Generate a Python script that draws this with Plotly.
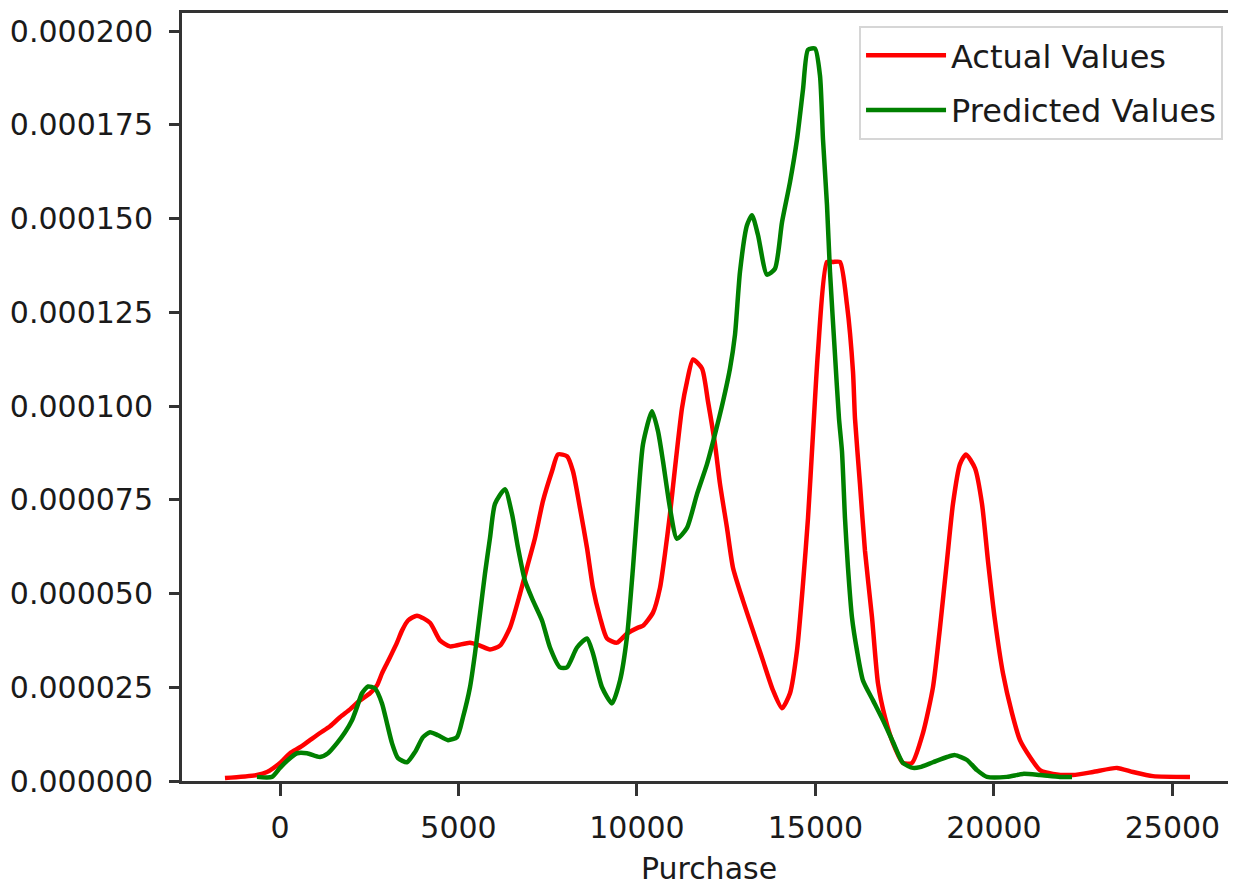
import plotly.graph_objects as go

# Actual Values (KDE curve)
actual_x = [-1541, -644, -364, 0, 280, 560, 840, 1120, 1401, 1681, 1961, 2241, 2521, 2717,
            2857, 2997, 3137, 3277, 3417, 3585, 3837, 4202, 4482, 4762, 5322, 5602, 5882,
            6162, 6443, 6723, 6919, 7143, 7367, 7619, 7787, 8039, 8207, 8403, 8599, 8767,
            8964, 9160, 9440, 9720, 10028, 10168, 10448, 10644, 10784, 10924, 11064, 11260,
            11400, 11569, 11821, 11989, 12185, 12325, 12521, 12689, 12969, 13249, 13529,
            13809, 14062, 14286, 14482, 14650, 14790, 14930, 15070, 15322, 15490, 15686,
            15882, 16050, 16106, 16246, 16386, 16583, 16751, 16947, 17171, 17451, 17703,
            18011, 18291, 18487, 18683, 18851, 19047, 19216, 19468, 19664, 19832, 20028,
            20252, 20504, 20728, 21008, 21288, 21652, 22213, 22773, 23445, 23893, 24453, 25490]
actual_y = [0.8e-6, 1.6e-6, 2.4e-6, 4.8e-6, 7.4e-6, 9.0e-6, 10.9e-6, 12.8e-6, 14.6e-6, 17.0e-6,
            19.1e-6, 21.5e-6, 23.4e-6, 25.5e-6, 28.7e-6, 31.4e-6, 34.1e-6, 36.9e-6, 40.1e-6,
            42.8e-6, 44.1e-6, 42.2e-6, 37.5e-6, 35.9e-6, 36.9e-6, 36.1e-6, 35.1e-6, 36.1e-6,
            40.9e-6, 49.9e-6, 56.9e-6, 64.8e-6, 74.7e-6, 82.6e-6, 87.1e-6, 86.6e-6, 82.6e-6,
            72.8e-6, 62.2e-6, 51.5e-6, 43.6e-6, 38.0e-6, 36.9e-6, 39.3e-6, 40.9e-6, 41.4e-6,
            44.9e-6, 51.5e-6, 60.6e-6, 71.2e-6, 83.4e-6, 99.4e-6, 106.5e-6, 112.4e-6, 110.0e-6,
            101.2e-6, 89.8e-6, 79.2e-6, 67.5e-6, 56.9e-6, 48.1e-6, 40.1e-6, 32.1e-6, 24.2e-6,
            19.4e-6, 23.4e-6, 34.8e-6, 52.6e-6, 70.1e-6, 92.5e-6, 114.5e-6, 138.4e-6, 138.4e-6,
            138.4e-6, 127.0e-6, 109.2e-6, 96.7e-6, 79.2e-6, 61.4e-6, 43.6e-6, 26.0e-6, 17.0e-6,
            10.1e-6, 4.8e-6, 4.8e-6, 12.8e-6, 25.0e-6, 40.9e-6, 58.7e-6, 73.9e-6, 84.5e-6,
            87.1e-6, 83.4e-6, 73.9e-6, 58.7e-6, 42.8e-6, 28.7e-6, 18.1e-6, 10.9e-6, 6.4e-6,
            2.9e-6, 1.9e-6, 1.6e-6, 2.4e-6, 3.5e-6, 2.4e-6, 1.3e-6, 1.1e-6]

# Predicted Values (KDE curve)
pred_x = [-644, -224, 0, 224, 476, 756, 1120, 1345, 1597, 1821, 2017, 2157, 2297, 2465, 2661,
          2857, 2997, 3137, 3305, 3557, 3781, 4006, 4202, 4426, 4706, 4958, 5126, 5322, 5462,
          5602, 5742, 5882, 6022, 6302, 6499, 6667, 6863, 7087, 7339, 7563, 7843, 8039, 8319,
          8599, 8767, 9020, 9300, 9524, 9720, 9888, 10028, 10168, 10420, 10588, 10728, 10924,
          11120, 11400, 11681, 11961, 12185, 12409, 12605, 12745, 12885, 13081, 13221, 13389,
          13641, 13865, 14062, 14286, 14482, 14650, 14790, 14986, 15126, 15210, 15322, 15406,
          15546, 15658, 15742, 15826, 15910, 16022, 16162, 16330, 16611, 16891, 17171, 17451,
          17731, 17927, 18291, 18683, 18907, 19244, 19524, 19804, 20364, 20812, 21288, 21849, 22185]
pred_y = [1.1e-6, 1.1e-6, 3.5e-6, 5.6e-6, 7.4e-6, 7.4e-6, 6.4e-6, 7.4e-6, 10.1e-6, 13.0e-6,
          16.2e-6, 19.7e-6, 23.4e-6, 25.2e-6, 24.7e-6, 20.7e-6, 15.4e-6, 10.1e-6, 6.1e-6, 5.0e-6,
          7.7e-6, 11.7e-6, 13.0e-6, 12.2e-6, 10.9e-6, 11.7e-6, 17.0e-6, 25.0e-6, 34.0e-6, 44.6e-6,
          55.3e-6, 64.8e-6, 73.9e-6, 77.8e-6, 71.2e-6, 62.2e-6, 53.4e-6, 48.1e-6, 42.8e-6, 35.6e-6,
          30.3e-6, 30.3e-6, 35.6e-6, 38.0e-6, 34.0e-6, 25.0e-6, 20.7e-6, 26.8e-6, 38.5e-6, 56.9e-6,
          74.7e-6, 89.8e-6, 98.6e-6, 93.3e-6, 85.3e-6, 72.8e-6, 64.6e-6, 67.5e-6, 76.5e-6, 84.5e-6,
          92.5e-6, 101.2e-6, 110.0e-6, 119.0e-6, 135.8e-6, 148.2e-6, 150.9e-6, 145.6e-6, 135.0e-6,
          136.6e-6, 149.0e-6, 159.7e-6, 171.1e-6, 184.4e-6, 195.0e-6, 195.3e-6, 188.1e-6, 171.1e-6,
          153.6e-6, 135.8e-6, 113.7e-6, 96.7e-6, 87.9e-6, 70.1e-6, 56.9e-6, 43.6e-6, 34.8e-6,
          26.8e-6, 21.5e-6, 16.2e-6, 10.4e-6, 4.8e-6, 3.5e-6, 3.7e-6, 5.0e-6, 6.4e-6, 6.9e-6,
          5.6e-6, 2.9e-6, 1.1e-6, 1.1e-6, 1.9e-6, 1.6e-6, 1.1e-6, 1.1e-6]

x_ticks = [0, 5000, 10000, 15000, 20000, 25000]
y_ticks = [0.0, 0.000025, 0.00005, 0.000075, 0.0001, 0.000125, 0.00015, 0.000175, 0.0002]
y_tick_labels = ["0.000000", "0.000025", "0.000050", "0.000075", "0.000100",
                 "0.000125", "0.000150", "0.000175", "0.000200"]

FONT = "DejaVu Sans"
AX = "#333333"
TXT = "#1a1a1a"

fig = go.Figure()
fig.add_trace(go.Scatter(x=actual_x, y=actual_y, mode="lines", name="Actual Values",
                         legendgroup="a",
                         line=dict(color="#ff0000", width=4.5, shape="spline", smoothing=0.6)))
fig.add_trace(go.Scatter(x=pred_x, y=pred_y, mode="lines", name="Predicted Values",
                         legendgroup="p",
                         line=dict(color="#008000", width=4.5, shape="spline", smoothing=0.6)))

fig.update_layout(
    width=1236, height=888,
    margin=dict(l=174, r=8, t=2, b=115),
    paper_bgcolor="white", plot_bgcolor="white",
    font=dict(family=FONT, size=30, color=TXT),
    showlegend=True,
    legend=dict(x=0.9877, y=0.983, xanchor="right", yanchor="top",
                bgcolor="white", bordercolor="#d6d6d6", borderwidth=2,
                font=dict(family=FONT, size=32, color=TXT),
                itemwidth=80, tracegroupgap=10),
)
fig.update_xaxes(range=[-2745, 26779], showgrid=False, zeroline=False,
                 showline=True, linecolor=AX, linewidth=3, mirror=True,
                 ticks="outside", ticklen=12, tickwidth=2.5, tickcolor=AX,
                 tickvals=x_ticks, ticktext=[str(v) for v in x_ticks],
                 ticklabelstandoff=6,
                 title=dict(text="Purchase", font=dict(family=FONT, size=30, color=TXT),
                            standoff=14))
fig.update_yaxes(range=[0, 0.0002048], showgrid=False, zeroline=False,
                 showline=True, linecolor=AX, linewidth=3, mirror=False,
                 ticks="outside", ticklen=10, tickwidth=2.5, tickcolor=AX,
                 tickvals=y_ticks, ticktext=y_tick_labels, ticklabelstandoff=10)

fig.write_html("out.html")
